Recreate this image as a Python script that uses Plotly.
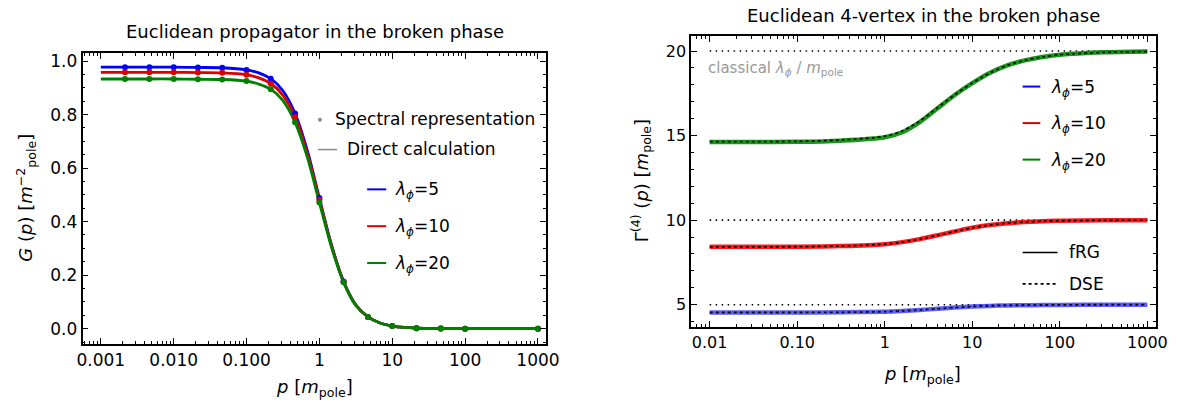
import plotly.graph_objects as go

# ---------------- data: left panel (propagator) ----------------
P_DOTS = [0.00215, 0.00464, 0.01, 0.0215, 0.0464, 0.1, 0.215, 0.464, 1.0,
          2.15, 4.64, 10.0, 21.5, 46.4, 100.0, 1000.0]
G_DOTS_5 = [0.977, 0.977, 0.977, 0.976, 0.975, 0.967, 0.934, 0.804, 0.488,
            0.176, 0.044, 0.0098, 0.002, 0.0005, 0.0001, 0.0]
G_DOTS_10 = [0.958, 0.958, 0.958, 0.957, 0.956, 0.949, 0.916, 0.791, 0.482,
             0.175, 0.044, 0.0098, 0.002, 0.0005, 0.0001, 0.0]
G_DOTS_20 = [0.933, 0.933, 0.933, 0.932, 0.931, 0.925, 0.895, 0.771, 0.471,
             0.173, 0.044, 0.0097, 0.002, 0.0005, 0.0001, 0.0]

P_LINE = [0.001, 0.00215, 0.00464, 0.01, 0.0215, 0.0464, 0.1, 0.147, 0.215,
          0.316, 0.464, 0.681, 1.0, 1.47, 2.15, 3.16, 4.64, 6.81, 10.0, 14.7,
          21.5, 46.4, 100.0, 1000.0]
G_LINE_5 = [0.977, 0.977, 0.977, 0.977, 0.976, 0.975, 0.967, 0.956, 0.934,
            0.889, 0.804, 0.667, 0.488, 0.312, 0.176, 0.089, 0.044, 0.021,
            0.0098, 0.0045, 0.002, 0.0005, 0.0001, 0.0]
G_LINE_10 = [0.958, 0.958, 0.958, 0.958, 0.957, 0.956, 0.949, 0.937, 0.916,
             0.872, 0.791, 0.656, 0.482, 0.309, 0.175, 0.088, 0.044, 0.021,
             0.0098, 0.0045, 0.002, 0.0005, 0.0001, 0.0]
G_LINE_20 = [0.933, 0.933, 0.933, 0.933, 0.932, 0.931, 0.925, 0.914, 0.895,
             0.852, 0.771, 0.642, 0.471, 0.303, 0.173, 0.087, 0.044, 0.021,
             0.0097, 0.0045, 0.002, 0.0005, 0.0001, 0.0]

# ---------------- data: right panel (4-vertex) ----------------
P_V = [0.01, 0.1, 0.316, 1.0, 1.58, 2.51, 3.98, 6.31, 10.0, 15.8, 25.1,
       39.8, 63.1, 100.0, 316.0, 1000.0]
FRG_5 = [4.54, 4.54, 4.55, 4.59, 4.63, 4.69, 4.76, 4.83, 4.89, 4.93, 4.96,
         4.97, 4.98, 4.99, 5.0, 5.0]
FRG_10 = [8.42, 8.43, 8.47, 8.58, 8.70, 8.88, 9.10, 9.33, 9.55, 9.71, 9.82,
          9.89, 9.94, 9.96, 9.99, 10.0]
FRG_20 = [14.62, 14.63, 14.70, 14.90, 15.20, 15.80, 16.60, 17.40, 18.10,
          18.70, 19.15, 19.45, 19.65, 19.78, 19.92, 19.97]
DSE_5 = [4.54, 4.54, 4.55, 4.59, 4.63, 4.69, 4.76, 4.83, 4.89, 4.93, 4.96,
         4.97, 4.98, 4.99, 5.0, 5.0]
DSE_10 = [8.42, 8.43, 8.47, 8.58, 8.70, 8.88, 9.10, 9.33, 9.55, 9.71, 9.82,
          9.89, 9.94, 9.96, 9.99, 10.0]
DSE_20 = [14.64, 14.66, 14.74, 14.96, 15.27, 15.86, 16.64, 17.42, 18.11,
          18.70, 19.15, 19.45, 19.65, 19.78, 19.92, 19.97]
CLASSICAL = [5, 10, 20]
P_CLASSICAL = [0.01, 1000.0]

LAMBDA_LABELS = ["5", "10", "20"]
X_TICKS_L = [0.001, 0.01, 0.1, 1, 10, 100, 1000]
X_TEXT_L = ["0.001", "0.010", "0.100", "1", "10", "100", "1000"]
X_TICKS_R = [0.01, 0.1, 1, 10, 100, 1000]
X_TEXT_R = ["0.01", "0.10", "1", "10", "100", "1000"]
Y_TICKS_L = [0.0, 0.2, 0.4, 0.6, 0.8, 1.0]
Y_TICKS_R = [5, 10, 15, 20]

# ---------------- styling ----------------
W, H = 1189, 403
FONT = "DejaVu Sans"
BLUE, RED, GREEN = "#0000ff", "#dd0000", "#008000"
COLORS = [BLUE, RED, GREEN]
FRG_COLORS = ["rgba(40,40,255,0.75)", "rgba(255,0,0,0.9)", "rgba(0,140,0,0.9)"]


def px(x):
    return x / W


def py(y):
    return 1 - y / H


def log_minor(lo, hi):
    vals = []
    for d in range(lo, hi):
        for k in range(2, 10):
            vals.append(k * 10.0 ** d)
    return vals


fig = go.Figure()

# left panel lines and dots
for gl, c in zip([G_LINE_5, G_LINE_10, G_LINE_20], COLORS):
    fig.add_trace(go.Scatter(x=P_LINE, y=gl, mode="lines", xaxis="x", yaxis="y",
                             line=dict(color=c, width=2.8, shape="spline", smoothing=0.8),
                             showlegend=False))
for gd, c in zip([G_DOTS_5, G_DOTS_10, G_DOTS_20], COLORS):
    fig.add_trace(go.Scatter(x=P_DOTS, y=gd, mode="markers", xaxis="x", yaxis="y",
                             marker=dict(color=c, size=6), showlegend=False))

# right panel: classical dotted lines
for lam in CLASSICAL:
    fig.add_trace(go.Scatter(x=P_CLASSICAL, y=[lam, lam], mode="lines",
                             xaxis="x2", yaxis="y2",
                             line=dict(color="black", width=1.6, dash="1.5px,4.5px"),
                             showlegend=False))
# fRG solid coloured
for f, c in zip([FRG_5, FRG_10, FRG_20], FRG_COLORS):
    fig.add_trace(go.Scatter(x=P_V, y=f, mode="lines", xaxis="x2", yaxis="y2",
                             line=dict(color=c, width=4.5, shape="spline", smoothing=0.8),
                             showlegend=False))
# DSE dashed black
for d in [DSE_5, DSE_10, DSE_20]:
    fig.add_trace(go.Scatter(x=P_V, y=d, mode="lines", xaxis="x2", yaxis="y2",
                             line=dict(color="rgba(0,0,0,0.85)", width=1.8,
                                       dash="3px,3px", shape="spline", smoothing=0.8),
                             showlegend=False))

axis_common = dict(showline=True, linecolor="black", linewidth=1.8, mirror="allticks",
                   ticks="inside", ticklen=6, tickwidth=1.2, tickcolor="black",
                   showgrid=False, zeroline=False)

fig.update_layout(
    width=W, height=H, margin=dict(l=0, r=0, t=0, b=0),
    paper_bgcolor="white", plot_bgcolor="white", showlegend=False,
    font=dict(family=FONT, size=17, color="black"),
    xaxis=dict(domain=[px(77.9), px(549)], type="log", range=[-3.25, 3.107],
               anchor="y", tickmode="array", tickvals=X_TICKS_L, ticktext=X_TEXT_L,
               tickfont=dict(family=FONT, size=17, color="black"),
               minor=dict(tickmode="array", tickvals=log_minor(-4, 4), ticks="inside",
                          ticklen=3, tickcolor="black", tickwidth=1),
               **axis_common),
    yaxis=dict(domain=[py(343.3), py(51)], range=[-0.0558, 1.031], anchor="x",
               tickmode="array", tickvals=Y_TICKS_L, tickformat=".1f",
               tickfont=dict(family=FONT, size=17, color="black"),
               minor=dict(dtick=0.05, ticks="inside", ticklen=3, tickcolor="black",
                          tickwidth=1),
               **axis_common),
    xaxis2=dict(domain=[px(696.9), px(1169.9)], type="log", range=[-2.211, 3.101],
                anchor="y2", tickmode="array", tickvals=X_TICKS_R, ticktext=X_TEXT_R,
                tickfont=dict(family=FONT, size=16, color="black"),
                minor=dict(tickmode="array", tickvals=log_minor(-3, 4), ticks="inside",
                           ticklen=3, tickcolor="black", tickwidth=1),
                **axis_common),
    yaxis2=dict(domain=[py(327), py(34.3)], range=[3.66, 20.88], anchor="x2",
                tickmode="array", tickvals=Y_TICKS_R,
                tickfont=dict(family=FONT, size=16, color="black"),
                minor=dict(dtick=1, ticks="inside", ticklen=3, tickcolor="black",
                           tickwidth=1),
                **axis_common),
)

ann = []
shapes = []


def text(x, y, s, size=17, color="black", xanchor="left", angle=0):
    ann.append(dict(x=px(x), y=py(y), xref="paper", yref="paper", text=s,
                    showarrow=False, xanchor=xanchor, yanchor="middle",
                    textangle=angle, font=dict(family=FONT, size=size, color=color)))


def hline(x0, x1, y, color, width=2, dash="solid"):
    shapes.append(dict(type="line", xref="paper", yref="paper", x0=px(x0), x1=px(x1),
                       y0=py(y), y1=py(y), line=dict(color=color, width=width, dash=dash)))


# titles
text(314.5, 29.3, "Euclidean propagator in the broken phase", size=18, xanchor="center")
text(933.4, 14, "Euclidean 4-vertex in the broken phase", size=18, xanchor="center")

# axis titles
XT = "<i>p</i> [<i>m</i><sub>pole</sub>]"
text(314, 388, XT, size=18, xanchor="center")
text(932, 375, XT, size=18, xanchor="center")
text(20, 197, "<i>G</i> (<i>p</i>) [<i>m</i><sup>−2</sup><sub>pole</sub>]", size=18,
     xanchor="center", angle=-90)
text(646, 180, "Γ<sup>(4)</sup> (<i>p</i>) [<i>m</i><sub>pole</sub>]", size=18,
     xanchor="center", angle=-90)

# left legend
shapes.append(dict(type="circle", xref="paper", yref="paper", x0=px(317.3), x1=px(321.3),
                   y0=py(116.3), y1=py(120.3), fillcolor="#888888", line=dict(width=0)))
text(333, 118, "Spectral representation")
hline(317.3, 336.7, 148.3, "#888888", width=1.5)
text(345, 148, "Direct calculation")
for i, (lab, c) in enumerate(zip(LAMBDA_LABELS, COLORS)):
    yy = 188.3 + i * 37
    hline(367.3, 386.7, yy, c, width=2)
    text(394, yy + 1.5, "<i>λ</i><sub><i>ϕ</i></sub>=" + lab)

# right legend
for i, (lab, c) in enumerate(zip(LAMBDA_LABELS, COLORS)):
    yy = 85 + i * 36.7
    hline(1034, 1052, yy, c, width=2)
    text(1060.5, yy + 1.5, "<i>λ</i><sub><i>ϕ</i></sub>=" + lab)
hline(1034, 1069.6, 251.7, "black", width=1.6)
text(1079, 251.7, "fRG")
hline(1034, 1069, 283.3, "black", width=1.6, dash="3px,3px")
text(1079, 283.3, "DSE")

# classical label
text(712, 66.7, "classical <i>λ</i><sub><i>ϕ</i></sub> / <i>m</i><sub>pole</sub>",
     size=15, color="#999999")

fig.update_layout(annotations=ann, shapes=shapes)
fig.write_html("out.html")
